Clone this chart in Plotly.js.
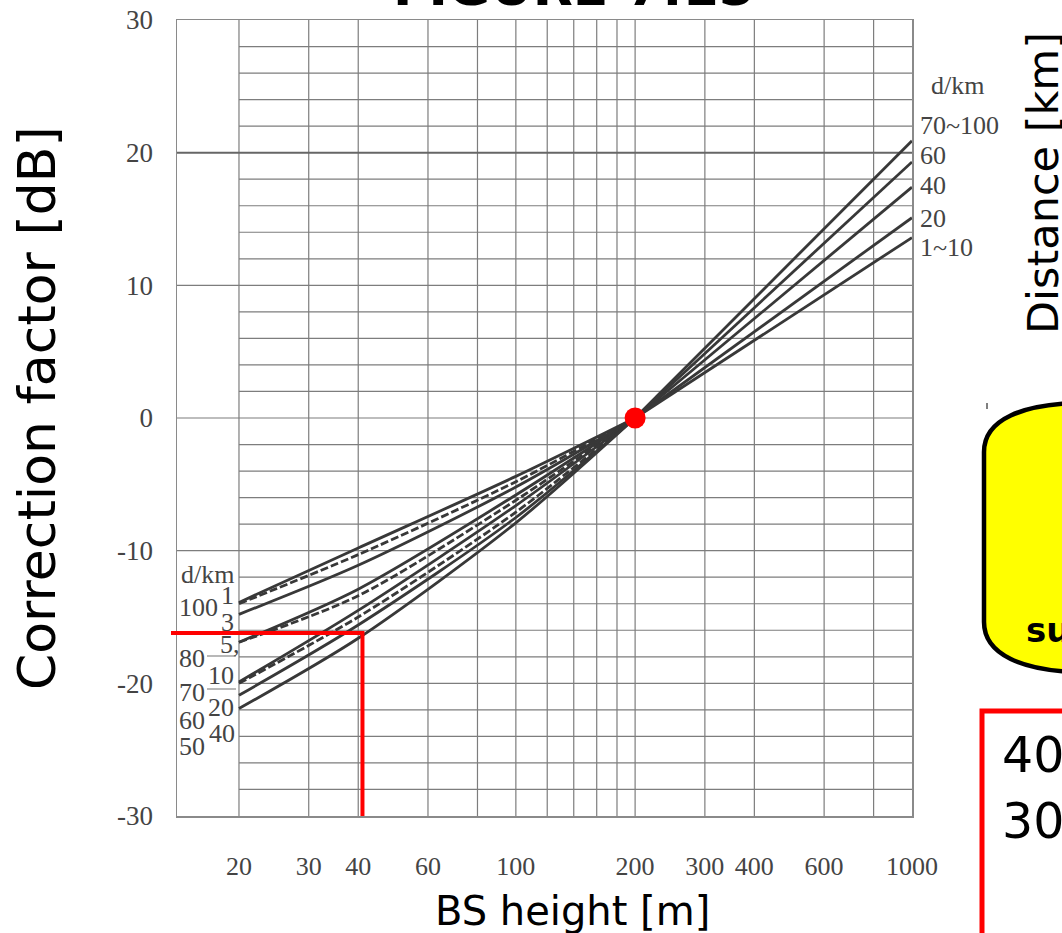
<!DOCTYPE html>
<html><head><meta charset="utf-8">
<script src="https://cdn.plot.ly/plotly-3.0.1.min.js"></script>
<style>html,body{margin:0;padding:0;background:#fff;}#chart{width:1062px;height:933px;}</style>
</head><body><div id="chart"></div>
<script>
// ---------- data ----------
const xTickVals = [20, 30, 40, 60, 100, 200, 300, 400, 600, 1000];
const xTickText = ['20', '30', '40', '60', '100', '200', '300', '400', '600', '1000'];
const yTickVals = [30, 20, 10, 0, -10, -20, -30];
const yTickText = ['30', '20', '10', '0', '-10', '-20', '-30'];
const xGridVals = [20, 30, 40, 60, 80, 100, 120, 140, 160, 180, 200, 300, 400, 600, 800];
const yMinorVals = [28, 26, 24, 22, 18, 16, 14, 12, 8, 6, 4, 2, -2, -4, -6, -8, -12, -14, -16, -18, -20, -22, -24, -26, -28];
const yMajorVals = [20, 10, 0, -10];

// BS height below 200 m (left family of curves)
const hLeft = [20, 40, 100, 200];
const leftCurve1 = [-13.9, -9.8, -4.4, 0];
const leftCurve2 = [-14.0, -10.3, -4.8, 0];   // dashed
const leftCurve3 = [-14.8, -11.1, -5.2, 0];
const leftCurve4 = [-16.9, -12.9, -5.8, 0];
const leftCurve5 = [-16.9, -13.4, -6.2, 0];   // dashed
const leftCurve6 = [-19.9, -14.5, -6.6, 0];
const leftCurve7 = [-20.0, -15.0, -7.1, 0];   // dashed
const leftCurve8 = [-20.9, -15.6, -7.5, 0];
const leftCurve9 = [-21.9, -16.6, -7.9, 0];
const leftDashed = [false, true, false, false, true, false, true, false, false];

// BS height above 200 m (right family of curves)
const hRight = [200, 1000];
const right70to100 = [0, 20.9];
const right60 = [0, 19.3];
const right40 = [0, 17.4];
const right20 = [0, 15.1];
const right1to10 = [0, 13.6];

// reference point and red guide lines
const refH = [200];
const refC = [0];
const guideH = [13.4, 41, 41];
const guideC = [-16.2, -16.2, -30];

// curve labels
const rightLabels = ['70~100', '60', '40', '20', '1~10'];
const leftLabelsA = ['100', '80', '70', '60', '50'];
const leftLabelsB = ['1', '3', '5,', '10', '20', '40'];

// ---------- helpers ----------
const L = 177, R = 912, T = 20, B = 816;
const fx = p => (p - L) / (R - L);
const fy = p => (B - p) / (B - T);
const P = (x, y) => fx(x) + ',' + fy(y);
const xMin = 13.95;

const curveColor = '#383838';
const gridColor = '#7d7d7d';

const traces = [];
const leftCurves = [leftCurve1, leftCurve2, leftCurve3, leftCurve4, leftCurve5, leftCurve6, leftCurve7, leftCurve8, leftCurve9];
leftCurves.forEach((c, i) => {
  traces.push({x: hLeft, y: c, type: 'scatter', mode: 'lines', hoverinfo: 'skip', showlegend: false,
    line: {color: curveColor, width: 2.8, shape: 'spline', smoothing: 0.8, dash: leftDashed[i] ? '8px,3px' : 'solid'}});
});
[right70to100, right60, right40, right20, right1to10].forEach(c => {
  traces.push({x: hRight, y: c, type: 'scatter', mode: 'lines', hoverinfo: 'skip', showlegend: false,
    line: {color: curveColor, width: 2.8}});
});
traces.push({x: guideH, y: guideC, type: 'scatter', mode: 'lines', hoverinfo: 'skip', showlegend: false,
  line: {color: '#ff0000', width: 4}});
traces.push({x: refH, y: refC, type: 'scatter', mode: 'markers', hoverinfo: 'skip', showlegend: false, cliponaxis: false,
  marker: {color: '#ff0000', size: 21}});

const shapes = [];
xGridVals.forEach(v => shapes.push({type: 'line', xref: 'x', yref: 'y', x0: v, x1: v, y0: -30, y1: 30, layer: 'below', line: {color: gridColor, width: 1.2}}));
yMinorVals.forEach(v => shapes.push({type: 'line', xref: 'x', yref: 'y', x0: 20, x1: 1000, y0: v, y1: v, layer: 'below', line: {color: gridColor, width: 1.2}}));
yMajorVals.forEach(v => shapes.push({type: 'line', xref: 'x', yref: 'y', x0: xMin, x1: 1000, y0: v, y1: v, layer: 'below', line: {color: v === 20 ? '#666' : gridColor, width: v === 20 ? 2 : 1.2}}));
// label leader lines on the left
shapes.push({type: 'line', xref: 'paper', yref: 'paper', x0: fx(207), x1: fx(236), y0: fy(656), y1: fy(656), line: {color: '#888', width: 1.2}});
shapes.push({type: 'line', xref: 'paper', yref: 'paper', x0: fx(207), x1: fx(236), y0: fy(689), y1: fy(689), line: {color: '#888', width: 1.2}});
// red guide extension outside the frame
shapes.push({type: 'line', xref: 'paper', yref: 'paper', x0: fx(171), x1: fx(178), y0: fy(633), y1: fy(633), line: {color: '#ff0000', width: 4}});
// yellow overlay shape
shapes.push({type: 'path', xref: 'paper', yref: 'paper', layer: 'above',
  path: 'M ' + P(984, 622) + ' L ' + P(984, 452) + ' C ' + P(984, 418) + ' ' + P(1025, 405) + ' ' + P(1075, 403) +
        ' L ' + P(1075, 672) + ' C ' + P(1025, 670) + ' ' + P(984, 656) + ' ' + P(984, 622) + ' Z',
  fillcolor: '#ffff00', line: {color: '#000', width: 4.5}});
shapes.push({type: 'line', xref: 'paper', yref: 'paper', x0: fx(987), x1: fx(987), y0: fy(403), y1: fy(409), line: {color: '#000', width: 1}});
// red box overlay
shapes.push({type: 'rect', xref: 'paper', yref: 'paper', x0: fx(982), x1: fx(1100), y0: fy(711), y1: fy(960), line: {color: '#ff0000', width: 5}});

const serif = 'Liberation Serif, Times New Roman, serif';
const sans = 'DejaVu Sans, sans-serif';
const ann = [];
const A = (text, x, y, opts) => ann.push(Object.assign({text: text, xref: 'paper', yref: 'paper', x: fx(x), y: fy(y), showarrow: false, xanchor: 'center', yanchor: 'middle'}, opts));

A('<b>FIGURE 7.15</b>', 574, 19, {yanchor: 'bottom', font: {family: sans, size: 52, color: '#000'}});
A('Correction factor [dB]', 37, 408, {textangle: -90, font: {family: sans, size: 52, color: '#000'}});
A('BS height [m]', 572, 911, {font: {family: sans, size: 40, color: '#000'}});
A('Distance [km]', 1043, 183, {textangle: -90, font: {family: sans, size: 43, color: '#000'}});
A('<b>su</b>', 1024, 630, {xanchor: 'left', font: {family: sans, size: 34, color: '#000'}});
A('40', 1000, 755, {xanchor: 'left', font: {family: sans, size: 49, color: '#000'}});
A('30', 1000, 821, {xanchor: 'left', font: {family: sans, size: 49, color: '#000'}});

const lab = {family: serif, size: 26, color: '#444'};
A('d/km', 929, 85, {xanchor: 'left', font: lab});
const rightY = [126, 156, 186, 218, 247];
rightLabels.forEach((t, i) => A(t, 918, rightY[i], {xanchor: 'left', font: lab}));
A('d/km', 179, 574, {xanchor: 'left', font: lab});
const leftYA = [607, 658, 692, 720, 746];
leftLabelsA.forEach((t, i) => A(t, 177, leftYA[i], {xanchor: 'left', font: lab}));
const leftYB = [595, 622, 644, 675, 707, 733];
const leftXB = [227, 227, 230, 221, 221, 222];
leftLabelsB.forEach((t, i) => A(t, leftXB[i], leftYB[i], {font: lab}));

const layout = {
  width: 1062, height: 933,
  margin: {l: L, r: 1062 - R, t: T, b: 933 - B},
  paper_bgcolor: '#fff', plot_bgcolor: '#fff',
  showlegend: false,
  xaxis: {type: 'log', range: [Math.log10(xMin), 3], tickmode: 'array', tickvals: xTickVals, ticktext: xTickText,
    showgrid: false, zeroline: false, showline: true, mirror: true, linecolor: '#8a8a8a', linewidth: 1.5,
    ticks: '', ticklabelstandoff: 26, tickfont: {family: serif, size: 26, color: '#444'}, fixedrange: true},
  yaxis: {range: [-30, 30], tickmode: 'array', tickvals: yTickVals, ticktext: yTickText,
    showgrid: false, zeroline: false, showline: true, mirror: true, linecolor: '#8a8a8a', linewidth: 1.5,
    ticks: '', ticklabelstandoff: 17, tickfont: {family: serif, size: 27, color: '#444'}, fixedrange: true},
  shapes: shapes,
  annotations: ann
};
Plotly.newPlot('chart', traces, layout, {displayModeBar: false, staticPlot: true});
</script>
</body></html>
